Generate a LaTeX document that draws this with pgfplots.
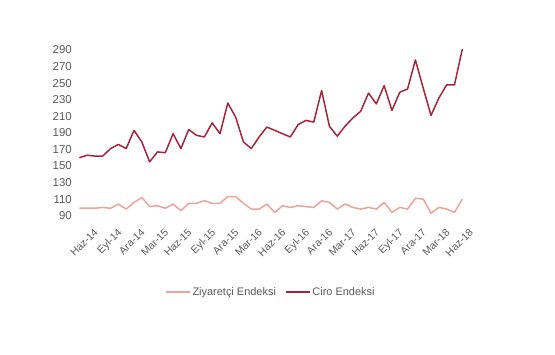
\documentclass[border=0pt]{standalone}
\usepackage{pgfplots}
\pgfplotsset{compat=1.18}
\usepackage{fontspec}
\setmainfont{Liberation Sans}
\definecolor{ciro}{HTML}{A3263E}
\definecolor{ziy}{HTML}{EDA397}
\definecolor{lbl}{HTML}{5A5A5A}
\begin{document}
\begin{tikzpicture}
\path[use as bounding box] (-79.3bp,-139.3bp) rectangle (475.7bp,215.7bp);
\begin{axis}[
  at={(0,0)}, anchor=south west,
  scale only axis,
  width=383bp, height=165.7bp,
  xmin=0, xmax=49, ymin=90, ymax=290,
  clip=false,
  axis line style={draw=none},
  major tick length=0pt,
  xtick={1,4,7,10,13,16,19,22,25,28,31,34,37,40,43,46,49},
  xticklabels={Haz-14,Eyl-14,Ara-14,Mar-15,Haz-15,Eyl-15,Ara-15,Mar-16,Haz-16,Eyl-16,Ara-16,Mar-17,Haz-17,Eyl-17,Ara-17,Mar-18,Haz-18},
  ytick={90,110,...,290},
  /pgf/number format/assume math mode=true,
  tick label style={font=\fontsize{11.5}{13}\selectfont, text=lbl},
  xticklabel style={rotate=45, anchor=north east, inner sep=0pt, yshift=-13bp, xshift=-4bp, font=\fontsize{10.5}{12}\selectfont},
  yticklabel style={xshift=-4bp},
  legend columns=2,
  legend style={at={(0.5,-0.46)}, anchor=center, draw=none, font=\fontsize{11}{12}\selectfont, text=lbl,
    /tikz/every even column/.append style={column sep=8bp},
    nodes={inner xsep=1.5bp}},
  legend image code/.code={\draw[#1] (0bp,0bp) -- (24bp,0bp);},
]
\addplot[ziy, line width=1.5pt, line join=round] coordinates {
(0,99)(1,99)(2,99)(3,100)(4,99)(5,104)(6,98)(7,106)(8,112)(9,101)
(10,102)(11,99)(12,104)(13,96)(14,105)(15,105)(16,108)(17,105)(18,105)(19,113)
(20,113)(21,105)(22,98)(23,98)(24,104)(25,94)(26,102)(27,100)(28,102)(29,101)
(30,100)(31,108)(32,106)(33,98)(34,104)(35,100)(36,98)(37,100)(38,98)(39,106)
(40,94)(41,100)(42,98)(43,111)(44,110)(45,93)(46,100)(47,98)(48,94)(49,110)
};
\addlegendentry{Ziyaretçi Endeksi}
\addplot[ciro, line width=1.5pt, line join=round] coordinates {
(0,160)(1,163)(2,162)(3,162)(4,171)(5,176)(6,171)(7,193)(8,179)(9,155)
(10,167)(11,166)(12,189)(13,171)(14,194)(15,187)(16,185)(17,202)(18,189)(19,226)
(20,209)(21,179)(22,171)(23,185)(24,197)(25,193)(26,189)(27,185)(28,200)(29,205)
(30,203)(31,241)(32,198)(33,186)(34,198)(35,208)(36,216)(37,238)(38,225)(39,247)
(40,217)(41,239)(42,243)(43,278)(44,244)(45,211)(46,232)(47,248)(48,248)(49,291)
};
\addlegendentry{Ciro Endeksi}
\end{axis}
\end{tikzpicture}
\end{document}
